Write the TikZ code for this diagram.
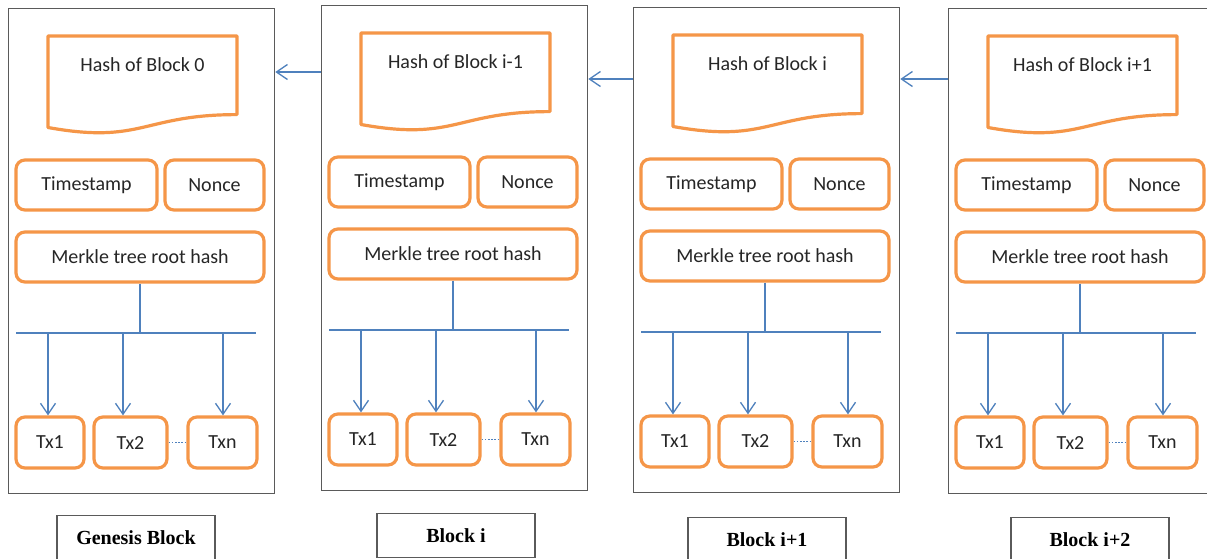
\documentclass[tikz,border=0pt]{standalone}
\usepackage{fontspec}
\setmainfont{Carlito}
\newfontfamily\capfont{Liberation Serif}
\usetikzlibrary{arrows.meta}

\definecolor{boxorange}{RGB}{245,150,72}
\definecolor{linkblue}{RGB}{79,129,189}
\definecolor{framegray}{RGB}{90,90,90}

\tikzset{
  blockframe/.style={draw=framegray, line width=1.3pt, rectangle, inner sep=0pt,
    minimum width=266pt, minimum height=485pt, anchor=north west},
  field/.style={draw=boxorange, line width=3.2pt, rounded corners=9pt, inner sep=0pt,
    minimum height=50pt, font=\fontsize{20}{24}\selectfont, text=black!85},
  hashdoc/.style={draw=boxorange, line width=3.2pt, line join=round},
  plaintext/.style={font=\fontsize{20}{24}\selectfont, text=black!85, inner sep=0pt},
  link/.style={draw=linkblue, line width=1.3pt,
    -{Straight Barb[length=11pt,width=15pt,line width=1.3pt]}},
  wire/.style={draw=linkblue, line width=1.3pt},
  ellipsis/.style={draw=linkblue, line width=1.8pt, dash pattern=on 1.6pt off 1.6pt},
  caption/.style={draw=framegray, line width=1.1pt, inner sep=0pt,
    minimum width=158pt, minimum height=44pt, anchor=north,
    font=\capfont\bfseries\fontsize{20}{24}\selectfont},
}

% One block of the chain: #1 name prefix, #2/#3 top-left corner, #4 hash caption
\newcommand{\chainblock}[4]{%
  \begin{scope}[shift={(#2,#3)}]
    \node[blockframe] (#1frame) at (0,0) {};
    % document-shaped header holding the previous hash
    \draw[hashdoc] (40,28) -- (229,28) -- (229,106.6)
      .. controls (134.5,106.6) and (134.5,136.5) .. (40,119.5) -- cycle;
    \node[plaintext] (#1hash) at (134.5,57) {#4};
    \node[field, minimum width=141pt] (#1time) at (78.5,177) {Timestamp};
    \node[field, minimum width=99pt] (#1nonce) at (206.5,177) {Nonce};
    \node[field, minimum width=248pt] (#1merkle) at (132,249) {Merkle tree root hash};
    \node[field, minimum width=68pt, minimum height=51pt] (#1tx1) at (42,434.5) {Tx1};
    \node[field, minimum width=73pt, minimum height=51pt] (#1tx2) at (122.5,434.5) {Tx2};
    \node[field, minimum width=69pt, minimum height=51pt] (#1txn) at (214.5,434.5) {Txn};
    % merkle root fanning out to the transactions
    \coordinate (#1busL) at (8,325);
    \coordinate (#1busR) at (248,325);
    \draw[wire] (#1busL) -- (#1busR);
    \draw[wire] (#1merkle.south) -- (#1merkle.south |- #1busL);
    \coordinate (#1jtx1) at (40,325);
    \coordinate (#1jtx2) at (115,325);
    \coordinate (#1jtxn) at (215,325);
    \draw[link] (#1jtx1) -- (#1jtx1 |- #1tx1.north);
    \draw[link] (#1jtx2) -- (#1jtx2 |- #1tx2.north);
    \draw[link] (#1jtxn) -- (#1jtxn |- #1txn.north);
    \draw[ellipsis] (#1tx2.east) -- (#1txn.west);
  \end{scope}}

\begin{document}
\begin{tikzpicture}[x=1pt, y=-1pt]
  \useasboundingbox (0,0) rectangle (1207,558);
  \clip (0,0) rectangle (1207,558);
  \fill[white] (0,0) rectangle (1207,558);

  \chainblock{b0}{8}{8}{Hash of Block 0}
  \chainblock{b1}{321}{5}{Hash of Block i-1}
  \chainblock{b2}{633}{7}{Hash of Block i}
  \chainblock{b3}{948}{8}{Hash of Block i+1}

  % back-links from each block to its predecessor
  \path (b1frame.north west) ++(0,67) coordinate (s1);
  \path (b2frame.north west) ++(0,72) coordinate (s2);
  \path (b3frame.north west) ++(0,71) coordinate (s3);
  \draw[link] (s1) -- (s1 -| b0frame.east);
  \draw[link] (s2) -- (s2 -| b1frame.east);
  \draw[link] (s3) -- (s3 -| b2frame.east);

  % block captions
  \node[caption] (cap0) at (136,515) {Genesis Block};
  \node[caption] (cap1) at (456,513) {Block i};
  \node[caption] (cap2) at (767,517) {Block i+1};
  \node[caption] (cap3) at (1090,517) {Block i+2};
\end{tikzpicture}
\end{document}
